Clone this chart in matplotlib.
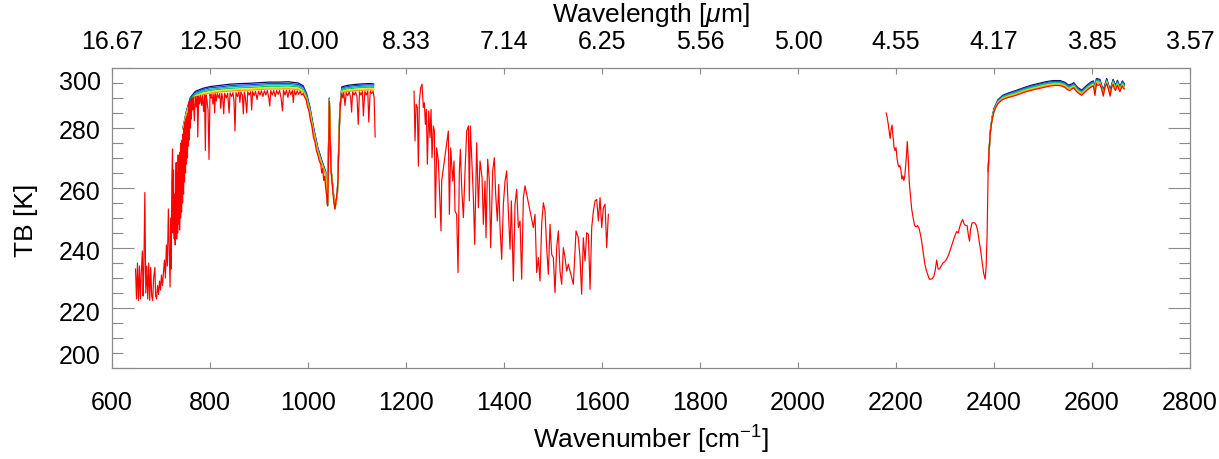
import matplotlib
matplotlib.use("Agg")
import matplotlib.pyplot as plt
from matplotlib.ticker import MultipleLocator

plt.rcParams['font.family'] = ['Liberation Sans', 'DejaVu Sans']
plt.rcParams['mathtext.fontset'] = 'custom'
plt.rcParams['mathtext.rm'] = 'Liberation Sans'
plt.rcParams['mathtext.it'] = 'Liberation Sans:italic'

# ---------------- data ----------------
# segment 1 (red series)
seg1_wn = [648, 650, 652, 654, 656, 658, 660, 662, 663.5, 665, 667, 669, 671, 673, 675, 677, 679, 681, 683, 685,
           687.5, 689, 691, 693, 695, 697, 699, 701, 703, 705, 707, 709, 711, 713, 715, 717, 718.5, 720, 721, 722,
           723.5, 724.5, 725.5, 727, 728, 729, 730, 731, 732, 733, 734, 735, 736, 737, 738, 739, 740, 741, 742, 743,
           744, 745, 746, 747, 748, 749, 750, 751, 752, 753, 754, 755, 756, 757, 758, 759, 760, 761, 762, 763,
           764.5, 766, 768, 770, 772, 774, 775, 777, 779, 781, 783, 785, 787, 789, 790.5, 792, 794, 796, 798, 800,
           802, 804, 806, 808, 809.5, 811, 813, 815, 818, 820, 822, 824, 826, 828, 830, 833, 836, 839, 841, 844,
           847, 849, 851, 853, 856, 859, 861, 863, 866, 868, 870, 872, 875, 877, 880, 883, 885, 887, 890, 893,
           896, 899, 902, 905, 908, 911, 914, 917, 920, 922, 924, 927, 930, 933, 936, 939, 942, 945, 948, 950,
           953, 956, 959, 962, 965, 968, 970, 972, 975, 978, 981, 984, 987, 990, 993, 996, 999, 1002, 1005, 1008,
           1011, 1014, 1017, 1020, 1023, 1026, 1028, 1030, 1032, 1034, 1036, 1038, 1040, 1042, 1043.5, 1045, 1047,
           1049, 1051, 1053, 1055, 1057, 1059, 1061, 1063, 1065, 1067, 1069, 1071, 1073, 1075.5, 1078, 1081, 1084,
           1087, 1089, 1091, 1094, 1097, 1100, 1102.5, 1105, 1108, 1111, 1113, 1116, 1119, 1122, 1124, 1127, 1130,
           1133, 1135, 1137]
seg1_tb = [233, 223, 235, 222.5, 234, 223, 232.5, 239, 224, 233, 258.5, 225, 234, 223, 235, 222.5, 233.5, 224, 222.5, 230,
           233.5, 224, 223, 227.5, 224.5, 229, 226, 231, 227.5, 232, 236, 230, 241, 234, 253, 238, 227, 250, 233, 262,
           273, 245, 266, 243, 258, 241, 262, 268.5, 243, 265, 245, 271, 248, 268, 246, 272, 250, 275, 252, 276,
           255, 278, 258, 280, 262, 282, 265, 283, 268, 284, 270, 285, 274, 288.5, 276, 289.5, 280, 289.5, 283, 290,
           286, 290.3, 282.4, 290.5, 287, 290.5, 277, 290.6, 288, 290.8, 287.5, 290.8, 285.5, 291, 272.5, 291, 289, 286, 269.5, 291.2,
           290, 291.3, 288, 291.4, 285, 291.4, 289, 291.5, 290, 291.5, 286.5, 291.5, 290, 284.7, 291.6, 290, 291.6, 285, 291.7, 290.5,
           291.8, 289, 279, 291.8, 290.5, 292, 288.5, 292, 291, 284.7, 292, 290.5, 285, 292.1, 291, 292.1, 286, 292.2, 290.8, 292.2,
           289.5, 292.3, 291, 292.4, 290.5, 292.4, 291, 292.5, 290, 287.3, 292.5, 291, 292.5, 290.5, 292.5, 291.2, 292.5, 290, 285.7, 292.6,
           291, 292.6, 290.2, 292.6, 291.2, 292.5, 288.5, 292.5, 291, 292.4, 291.2, 292.2, 291, 291.5, 290.3, 289.5, 287, 285.5, 282.5, 280.5,
           277, 275.5, 272.5, 271, 269, 268, 265, 266.5, 262.5, 264, 260, 257.5, 254, 270, 289, 277, 266,
           262, 258, 255, 253, 255.5, 258, 262, 274, 285, 289.5, 291.5, 290, 291.8, 287.5, 291.8, 290.8, 292,
           290.2, 285.3, 292, 291, 292, 290.5, 281.2, 292.1, 291, 292.2, 284, 292.2, 291, 292.3, 282, 292.3, 291.5,
           292.2, 290, 277]

# segment 2 (red series)
seg2_wn = [1216.4, 1218.4, 1220.5, 1223.2, 1225.2, 1227.3, 1230, 1232.7, 1235.4, 1237.5, 1239.5, 1241.5, 1243.6, 1246.3,
           1249, 1251.1, 1253.1, 1255.8, 1257.9, 1259.9, 1262.6, 1266, 1269.4, 1271.5, 1272.8, 1286.4, 1288.5, 1291.2,
           1295.3, 1298, 1300, 1303.4, 1306.2, 1308.9, 1311, 1313.6, 1317.1, 1320.5, 1323.9, 1327.3, 1329.3, 1331.3,
           1334.1, 1337.5, 1340.2, 1344.3, 1347.7, 1351.1, 1355.2, 1357.9, 1361.3, 1363.3, 1366.7, 1370.1, 1372.8,
           1376.9, 1380.3, 1383, 1386.4, 1389.2, 1391.9, 1395.3, 1398.7, 1402.1, 1405.5, 1408.9, 1412.3, 1415, 1419.1,
           1422.5, 1425.9, 1429.3, 1432.7, 1436.1, 1439.5, 1442.9, 1459.9, 1463.3, 1466.7, 1470.1, 1473.5, 1476.9,
           1480.3, 1483.7, 1487.1, 1490.5, 1493.9, 1497.3, 1500.7, 1504.1, 1507.5, 1510.9, 1514.3, 1517.7, 1521.1,
           1524.5, 1527.9, 1531.3, 1541.5, 1547, 1551.7, 1555.1, 1558.5, 1561.9, 1565.4, 1568.8, 1572.2, 1575.6,
           1579, 1582.4, 1585.8, 1589.2, 1592.6, 1596, 1599.4, 1602.8, 1606.2, 1609.6, 1613]
seg2_tb = [292.3, 275.7, 287.9, 286.8, 267.3, 289, 293.4, 294.6, 286.8, 288.4, 281.2, 286.2, 267.9, 285.7,
           276.8, 286.2, 270.1, 280.7, 279, 250.1, 273.4, 269, 254.6, 245.7, 262.3, 279, 251.2, 273.4,
           262.3, 269, 252.3, 251.2, 231.8, 265.7, 272.9, 260.1, 250.1, 265.7, 279, 280.7, 255.7, 280.7,
           270.1, 256.8, 241.2, 275.1, 253.4, 269, 263.4, 247.9, 262.3, 243.4, 269.6, 262.3, 240.1,
           265.7, 270.1, 257.9, 249, 261.2, 246.8, 236.2, 254.6, 262.3, 265.7, 252.3, 239.6, 255.7, 229,
           254.6, 259.6, 246.8, 249, 229.6, 256.8, 260.7, 246.8, 251.2, 231.8, 236.8, 229, 247.9,
           255.1, 252.3, 240.1, 231.2, 247.9, 237.9, 236.8, 225.1, 240.1, 245.7, 232.3, 227.9, 240.1,
           236.8, 232.3, 234.6, 227.9, 245.7, 243.4, 236.8, 224.6, 243.4, 235.7, 245.1, 244.6, 226.2,
           246.8, 252.3, 255.7, 256.2, 249, 256.8, 246.8, 253.4, 254.6, 240.1, 251.2]

# segment 3 (red series)
seg3_wn = [2180, 2182, 2184, 2186, 2188, 2190, 2192, 2194, 2196, 2198, 2200, 2202, 2204, 2206, 2208, 2210, 2212, 2214,
           2216, 2218, 2221, 2223, 2225, 2227, 2229, 2232, 2235, 2238, 2241, 2244, 2247, 2250, 2253, 2256, 2259, 2262,
           2265, 2268, 2271, 2274, 2277, 2280, 2283, 2286, 2289, 2292, 2296, 2300, 2304, 2308, 2312, 2316, 2320, 2324,
           2327, 2330, 2333, 2336, 2339, 2342, 2345, 2348, 2350, 2352, 2355, 2358, 2361, 2364, 2367, 2370, 2373, 2376,
           2379, 2382, 2384, 2386, 2388, 2390, 2392, 2394, 2396, 2400, 2404, 2408, 2413, 2418, 2424, 2430, 2437, 2445,
           2452, 2460, 2468, 2475, 2482, 2490, 2497, 2505, 2512, 2520, 2527, 2535, 2540, 2545, 2549, 2552, 2555, 2558,
           2563, 2566, 2570, 2575, 2579, 2583, 2586, 2589, 2592, 2595, 2598, 2601, 2603, 2606, 2609, 2612, 2616, 2619,
           2623, 2626, 2630, 2633, 2637, 2640, 2643, 2646, 2648, 2650, 2652, 2655, 2657, 2660, 2662, 2664, 2666]
seg3_tb = [285, 283.5, 281.5, 279, 276.5, 279.5, 281, 277, 273.5, 272.5, 273.5, 270, 268, 267, 267.5, 266, 263, 264,
           262.5, 264, 270, 275.5, 270, 262, 258.5, 253, 250, 247.5, 247, 247.5, 246.5, 244.5, 241.5, 238, 234.5, 232.5,
           231, 229.6, 229.6, 229.8, 230.5, 232.5, 236, 233, 233, 234, 235, 235.5, 236.5, 238, 240, 242, 244, 245.5,
           245, 247, 248.5, 249.5, 248, 247.5, 247.5, 244, 242.3, 246, 248.3, 248.5, 248.3, 247.5, 245.5, 242, 239, 235,
           231.5, 229.6, 234, 245, 265.4, 272.5, 277.6, 280.5, 282.6, 285.4, 287, 288.1, 288.9, 289.5, 289.9, 290.2, 290.5, 290.9,
           291.3, 291.8, 292.2, 292.5, 292.8, 293.1, 293.4, 293.7, 293.9, 294.1, 294.2, 294.1, 293.9, 293.5, 292.9, 292.6, 292.5, 292.9,
           293.4, 292.6, 291.9, 291.3, 290.9, 291.5, 292.0, 292.5, 292.9, 293.3, 293.6, 293.9, 294.0, 290.8, 294.8, 294.2, 294.5, 293.5,
           290.6, 293.5, 294.8, 293.2, 290.6, 293.8, 294.5, 293.0, 292.5, 293.6, 294.2, 292.8, 292.1, 293.5, 294.0, 293.2, 293.0]

# other six series (warmer cases), window channels only
band1_wn = [745, 752, 760, 770, 785, 800, 820, 840, 860, 880, 900, 920, 940, 960, 980, 990, 997, 1004, 1012, 1020,
            1028, 1036, 1040, 1043.5, 1047, 1055, 1060, 1065, 1069, 1080, 1095, 1110, 1125, 1134]
navy1 = [280.1, 285.7, 290.2, 292.2, 293.2, 293.8, 294.2, 294.6, 294.8, 294.9, 295.1, 295.3, 295.3, 295.4, 295.0, 294.1,
         291.5, 286.9, 279.7, 273.5, 269.3, 265.5, 254.3, 290.0, 266.3, 253.2, 258.3, 286.5, 293.7, 294.2, 294.5, 294.7, 294.8, 294.7]
blue1 = [280.0, 285.5, 289.9, 291.8, 292.8, 293.4, 293.7, 294.1, 294.3, 294.4, 294.6, 294.8, 294.8, 294.9, 294.5, 293.7,
         291.1, 286.5, 279.3, 273.2, 269.0, 265.2, 254.2, 289.8, 266.2, 253.2, 258.2, 286.2, 293.3, 293.8, 294.1, 294.3, 294.4, 294.3]
cyan1 = [279.9, 285.3, 289.6, 291.5, 292.4, 292.9, 293.3, 293.7, 293.9, 294.0, 294.2, 294.4, 294.4, 294.5, 294.1, 293.2,
         290.7, 286.1, 279.0, 272.8, 268.7, 265.0, 254.2, 289.7, 266.2, 253.1, 258.2, 286.0, 293.0, 293.4, 293.7, 293.9, 294.0, 293.9]
green1 = [279.8, 285.1, 289.4, 291.1, 292.0, 292.5, 292.9, 293.2, 293.4, 293.5, 293.7, 293.9, 293.9, 294.0, 293.7, 292.8,
          290.3, 285.7, 278.6, 272.5, 268.4, 264.8, 254.2, 289.5, 266.2, 253.1, 258.2, 285.8, 292.6, 293.0, 293.3, 293.5, 293.6, 293.5]
yellow1 = [279.7, 284.9, 289.1, 290.7, 291.5, 292.1, 292.4, 292.7, 292.9, 293.0, 293.2, 293.4, 293.4, 293.5, 293.2, 292.4,
           289.8, 285.3, 278.2, 272.2, 268.1, 264.5, 254.1, 289.3, 266.1, 253.1, 258.1, 285.5, 292.2, 292.6, 292.8, 293.0, 293.1, 293.0]
orange1 = [279.6, 284.7, 288.8, 290.4, 291.1, 291.6, 292.0, 292.3, 292.5, 292.6, 292.8, 293.0, 293.0, 293.1, 292.8, 291.9,
           289.4, 284.9, 277.9, 271.8, 267.8, 264.3, 254.1, 289.2, 266.1, 253.0, 258.1, 285.3, 291.9, 292.2, 292.4, 292.6, 292.7, 292.6]

band3_wn = [2388, 2392, 2396, 2400, 2408, 2418, 2430, 2445, 2460, 2475, 2490, 2505, 2520, 2535, 2545, 2552, 2558, 2563,
            2570, 2579, 2586, 2592, 2598, 2603, 2606, 2609, 2616, 2623, 2630, 2637, 2643, 2648, 2652, 2657, 2662, 2666]
navy3 = [265.7, 278.2, 283.5, 286.5, 289.4, 290.9, 291.7, 292.5, 293.4, 294.2, 294.8, 295.4, 295.8, 295.8, 295.2, 294.3, 294.6, 295.1,
         293.6, 292.6, 293.7, 294.6, 295.3, 295.7, 293.0, 296.5, 296.2, 292.6, 296.5, 292.6, 296.2, 294.2, 295.9, 293.8, 295.7, 294.7]
blue3 = [265.65, 278.1, 283.35, 286.3, 289.2, 290.65, 291.45, 292.2, 293.1, 293.9, 294.5, 295.1, 295.5, 295.5, 294.9, 294.0, 294.3, 294.8,
         293.3, 292.3, 293.4, 294.3, 295.0, 295.4, 292.7, 296.2, 295.9, 292.3, 296.2, 292.3, 295.9, 293.9, 295.6, 293.5, 295.4, 294.4]
cyan3 = [265.6, 278.0, 283.2, 286.15, 288.95, 290.45, 291.2, 292.0, 292.9, 293.6, 294.2, 294.8, 295.2, 295.2, 294.6, 293.7, 294.0, 294.5,
         293.0, 292.0, 293.1, 294.0, 294.7, 295.1, 292.4, 295.9, 295.6, 292.0, 295.9, 292.0, 295.6, 293.6, 295.3, 293.2, 295.1, 294.1]
green3 = [265.55, 277.9, 283.05, 285.95, 288.75, 290.2, 290.95, 291.7, 292.6, 293.35, 293.95, 294.55, 294.95, 294.95, 294.35, 293.45, 293.75, 294.25,
          292.75, 291.75, 292.85, 293.75, 294.45, 294.85, 292.15, 295.65, 295.35, 291.75, 295.65, 291.75, 295.35, 293.35, 295.05, 292.95, 294.85, 293.85]
yellow3 = [265.5, 277.8, 282.9, 285.75, 288.55, 289.95, 290.7, 291.4, 292.3, 293.05, 293.65, 294.25, 294.65, 294.65, 294.05, 293.15, 293.45, 293.95,
           292.45, 291.45, 292.55, 293.45, 294.15, 294.55, 291.85, 295.35, 295.05, 291.45, 295.35, 291.45, 295.05, 293.05, 294.75, 292.65, 294.55, 293.55]
orange3 = [265.45, 277.7, 282.75, 285.6, 288.3, 289.75, 290.45, 291.2, 292.1, 292.8, 293.4, 294.0, 294.4, 294.4, 293.8, 292.9, 293.2, 293.7,
           292.2, 291.2, 292.3, 293.2, 293.9, 294.3, 291.6, 295.1, 294.8, 291.2, 295.1, 291.2, 294.8, 292.8, 294.5, 292.4, 294.3, 293.3]

x_ticks = [600, 800, 1000, 1200, 1400, 1600, 1800, 2000, 2200, 2400, 2600, 2800]
x_labels = ["600", "800", "1000", "1200", "1400", "1600", "1800", "2000", "2200", "2400", "2600", "2800"]
wl_labels = ["16.67", "12.50", "10.00", "8.33", "7.14", "6.25", "5.56", "5.00", "4.55", "4.17", "3.85", "3.57"]
y_ticks = [200, 220, 240, 260, 280, 300]
y_labels = ["200", "220", "240", "260", "280", "300"]
# where the reference puts each y label (in K, IDL-style inset labels at the ends)
y_label_pos = [204.0, 218.3, 238.6, 258.6, 278.9, 295.2]

band_colors = ['#0c0c5a', '#1f3cff', '#00b0d0', '#10d040', '#e6e600', '#ff9a00']
red = '#ff0000'
axis_gray = '#8a8a8a'
FS = 18
FS_T = 19

# ---------------- figure ----------------
W, H = 1219, 460
fig = plt.figure(figsize=(W / 100, H / 100), dpi=100)
L, R, T, B = 112, 1190, 69, 369
ax = fig.add_axes([L / W, 1 - B / H, (R - L) / W, (B - T) / H])

band1 = [navy1, blue1, cyan1, green1, yellow1, orange1]
band3 = [navy3, blue3, cyan3, green3, yellow3, orange3]
for i, (c, s1, s3) in enumerate(zip(band_colors, band1, band3)):
    ax.plot(band1_wn, s1, color=c, lw=0.9, zorder=2 + i)
    ax.plot(band3_wn, s3, color=c, lw=0.9, zorder=2 + i)

for wn, tb in [(seg1_wn, seg1_tb), (seg2_wn, seg2_tb), (seg3_wn, seg3_tb)]:
    ax.plot(wn, tb, color=red, lw=0.85, zorder=10)

ax.set_xlim(600, 2800)
ax.set_ylim(200, 300)

ax.set_xticks(x_ticks)
ax.set_xticklabels(x_labels, fontsize=FS)
ax.set_yticks(y_ticks)
ax.yaxis.set_minor_locator(MultipleLocator(5))
ax.tick_params(axis='x', which='major', direction='in', length=4.3, width=0.8,
               color=axis_gray, pad=16, top=False, bottom=True)
ax.tick_params(axis='y', which='major', direction='in', length=15.8, width=0.8,
               color=axis_gray, left=True, right=True, labelleft=False)
ax.tick_params(axis='y', which='minor', direction='in', length=7.9, width=0.8,
               color=axis_gray, left=True, right=True)
for sp in ax.spines.values():
    sp.set_color(axis_gray)
    sp.set_linewidth(0.8)

for lab, yp in zip(y_labels, y_label_pos):
    ax.text(-0.0105, yp, lab, transform=ax.get_yaxis_transform(), ha='right',
            va='center', fontsize=FS)

ax2 = ax.twiny()
ax2.set_xlim(ax.get_xlim())
ax2.set_xticks(x_ticks)
ax2.set_xticklabels(wl_labels, fontsize=FS)
ax2.tick_params(axis='x', direction='in', length=4.3, width=0.8, color=axis_gray, pad=11)
for sp in ax2.spines.values():
    sp.set_color(axis_gray)
    sp.set_linewidth(0.8)

fig.text(26 / W, 1 - 220 / H, 'TB [K]', rotation=90, ha='center', va='center', fontsize=FS_T)
fig.text(651 / W, 1 - 440 / H, r'Wavenumber [cm$^{-1}$]', ha='center', va='center', fontsize=FS_T)
fig.text(651 / W, 1 - 15 / H, r'Wavelength [$\mu$m]', ha='center', va='center', fontsize=FS_T)

fig.savefig('out.png', dpi=100)
